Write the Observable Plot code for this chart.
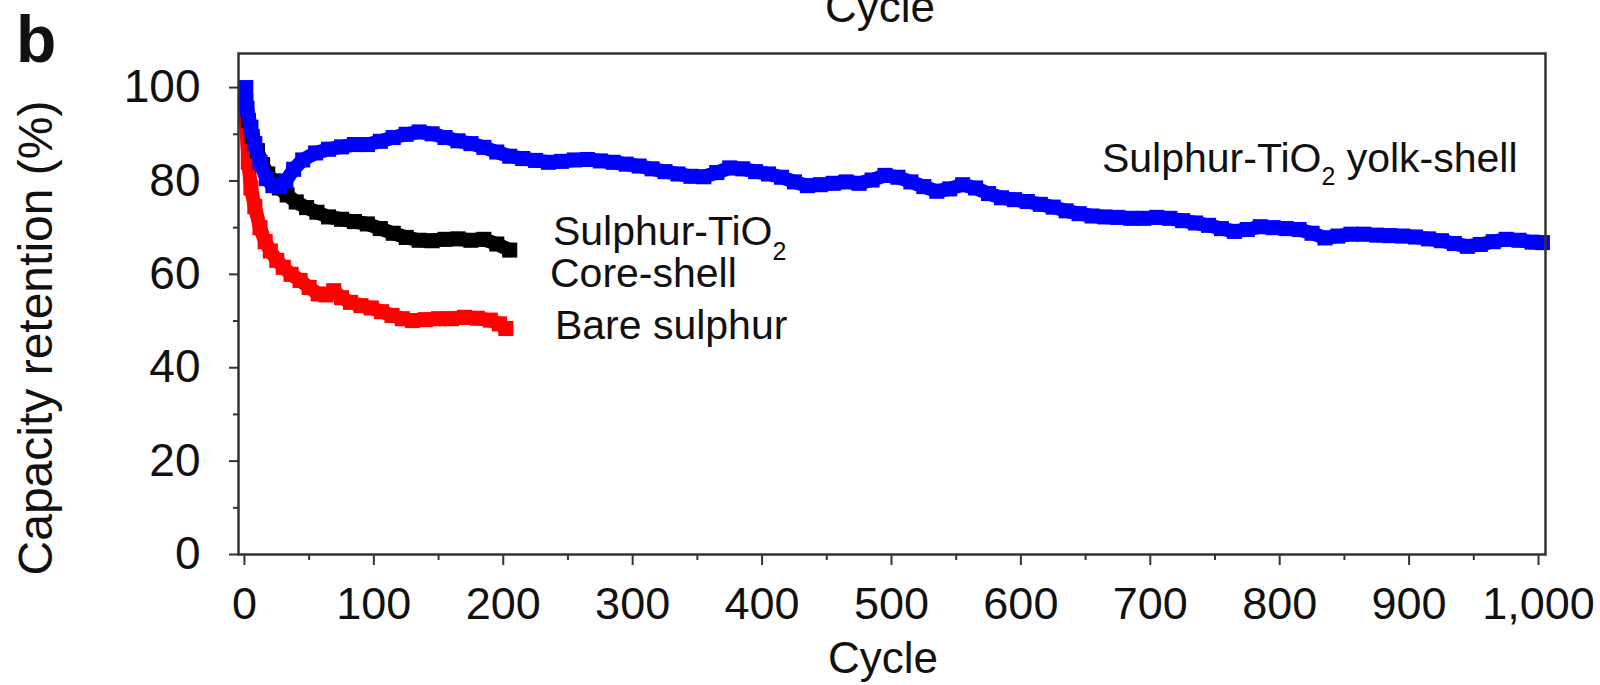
<!DOCTYPE html>
<html><head><meta charset="utf-8">
<script src="https://cdn.jsdelivr.net/npm/d3@7"></script>
<script src="https://cdn.jsdelivr.net/npm/@observablehq/plot@0.6"></script>
<style>
html,body{margin:0;padding:0;background:#fff;}
#chart{position:relative;width:1600px;height:685px;overflow:hidden;}
</style></head><body><div id="chart"></div>
<script>
// ---- data ----
const bareCycle = [1,3,5,8,12,16,20,25,30,36,43,50,57,63,69,75,82,90,98,106,114,122,130,140,150,160,170,180,190,197,202];
const bareValue = [94,84,78.5,74.5,70,67,65,63,61.5,60,58.7,57.2,55.8,55.6,56.5,55,54,53.3,52.8,52,51.2,50.5,50.1,50.3,50.5,50.5,50.8,50.6,50.2,49.4,48.4];

const coreCycle = [1,3,6,10,14,18,22,27,33,40,48,56,65,75,85,95,105,115,125,135,145,155,165,175,185,195,205];
const coreValue = [97,93,89.5,86.5,83.5,81.5,80,78.5,77,75.5,74.3,73.3,72.3,71.8,71.3,70.8,69.8,68.8,67.9,67.3,67.2,67.5,67.6,67.3,67.5,66.5,65.2];

const yolkCycle = [1,2,5,8,12,17,22,27,32,38,45,55,65,75,85,95,105,115,125,135,145,155,165,175,185,195,205,215,225,235,245,255,265,275,285,295,305,315,325,335,345,355,365,375,385,395,405,415,425,435,445,455,465,475,485,495,505,515,525,535,545,555,565,575,585,595,605,615,625,635,645,655,665,675,685,695,705,715,725,735,745,755,765,775,785,795,805,815,825,835,845,855,865,875,885,895,905,915,925,935,945,955,965,975,985,995,1003];
const yolkValue = [100,95.5,91.5,88,84,80.5,79,78.8,80,82.5,84.5,86,86.8,87.3,87.8,87.8,88.5,89.3,90,90.5,90.1,89.3,88.6,88,87.2,86.2,85.3,84.8,84.4,84,84.2,84.5,84.6,84.3,84,83.6,83.2,82.6,82,81.5,81,80.9,81.8,82.8,82.6,82,81.5,80.8,79.8,79,79.2,79.5,79.8,79.5,80.2,81.2,80.8,79.8,78.8,77.8,78.3,79.2,78.5,77.3,76.4,76,75.6,75,74.4,73.6,73,72.5,72.3,72.2,72,72,72.2,72,71.5,71,70.5,69.8,69.2,69.6,70.2,70,69.8,69.6,68.8,67.8,68.2,68.6,68.6,68.4,68.3,68.2,68,67.6,67.2,66.6,66,66.4,67,67.5,67.3,66.9,66.8];

const yMajor = [0,20,40,60,80,100];
const yMinor = [10,30,50,70,90];
const xMajor = [0,100,200,300,400,500,600,700,800,900,1000];
const xMinor = [50,150,250,350,450,550,650,750,850,950];

// annotation labels: [main text, subscript, rest], anchor cycle, anchor value
const labelMain  = ["Sulphur-TiO", "Sulphur-TiO", "Core-shell", "Bare sulphur"];
const labelSub   = ["2", "2", "", ""];
const labelRest  = [" yolk-shell", "", "", ""];
const labelCycle = [663, 238.8, 236.5, 240.3];
const labelValue = [81.9, 66.2, 57.2, 46.0];

// ---- build ----
const rows = (c, v) => c.map((d, i) => ({cycle: d, value: v[i]}));
const bare = rows(bareCycle, bareValue);
const core = rows(coreCycle, coreValue);
const yolk = rows(yolkCycle, yolkValue);

const font = "'Liberation Sans', Arial, Helvetica, sans-serif";
const axisColor = "#333";

function series(data, color) {
  return [
    Plot.line(data, {x: "cycle", y: "value", stroke: color, strokeWidth: 14}),
    Plot.dot(data, {x: "cycle", y: "value", fill: color, symbol: "square", r: 8.5})
  ];
}

const plot = Plot.plot({
  width: 1600, height: 685,
  marginLeft: 238, marginRight: 55, marginTop: 53, marginBottom: 131,
  x: {domain: [-4.6, 1005.4], label: null},
  y: {domain: [0, 107.3], label: null},
  style: {fontFamily: font, fontSize: "46px", color: "#111", background: "#fff", overflow: "visible"},
  marks: [
    ...series(bare, "#ff0000"),
    ...series(core, "#000000"),
    ...series(yolk, "#0000ff"),
    Plot.frame({stroke: axisColor, strokeWidth: 2.5}),
    Plot.axisY({ticks: yMajor, tickSize: 9, tickPadding: 29, fontSize: 46, label: null, stroke: axisColor, strokeWidth: 2}),
    Plot.axisY({ticks: yMinor, tickSize: 5, tickFormat: () => "", label: null, stroke: axisColor, strokeWidth: 2}),
    Plot.axisX({ticks: xMajor, tickSize: 11, tickPadding: 22, fontSize: 45, label: null, stroke: axisColor, strokeWidth: 2, tickFormat: d3.format(",")}),
    Plot.axisX({ticks: xMinor, tickSize: 6, tickFormat: () => "", label: null, stroke: axisColor, strokeWidth: 2})
  ]
});

document.getElementById("chart").appendChild(plot);

const svg = d3.select(plot);
const X = plot.scale("x"), Y = plot.scale("y");

// in-plot annotations positioned through the scales
const ann = svg.append("g").attr("font-family", font).attr("fill", "#111").attr("text-anchor", "start");
labelMain.forEach((t, i) => {
  const txt = ann.append("text")
    .attr("x", X.apply(labelCycle[i]))
    .attr("y", Y.apply(labelValue[i]))
    .attr("font-size", 41);
  txt.append("tspan").text(t);
  if (labelSub[i]) {
    txt.append("tspan").attr("font-size", 25).attr("dy", i === 0 ? 13 : 15).text(labelSub[i]);
  }
  if (labelRest[i]) {
    txt.append("tspan").attr("dy", i === 0 ? -13 : -15).text(labelRest[i]);
  }
});

// panel titles
const titles = svg.append("g").attr("font-family", font).attr("fill", "#111");
titles.append("text").attr("x", 16).attr("y", 62).attr("font-size", 66).attr("font-weight", "bold").attr("text-anchor", "start").text("b");
titles.append("text").attr("x", 880).attr("y", 22).attr("font-size", 44).attr("text-anchor", "middle").text("Cycle");
titles.append("text").attr("x", 883).attr("y", 673).attr("font-size", 44).attr("text-anchor", "middle").text("Cycle");
titles.append("text").attr("transform", "translate(52,338) rotate(-90)").attr("font-size", 48).attr("text-anchor", "middle").text("Capacity retention (%)");
</script>
</body></html>
